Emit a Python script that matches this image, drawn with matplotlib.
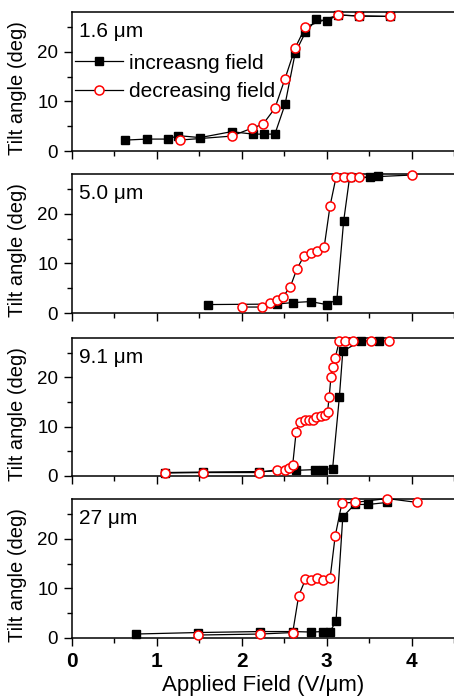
import matplotlib
matplotlib.use("Agg")
import matplotlib.pyplot as plt
from matplotlib.ticker import MultipleLocator

plt.rcParams['font.family'] = ['Liberation Sans', 'DejaVu Sans']

# thickness labels
labels = ["1.6 \u03bcm", "5.0 \u03bcm", "9.1 \u03bcm", "27 \u03bcm"]

# 1.6 um
inc1_x = [0.63, 0.88, 1.13, 1.25, 1.51, 1.88, 2.13, 2.26, 2.39, 2.51, 2.63, 2.75, 2.88, 3.00, 3.13, 3.38, 3.75]
inc1_y = [2.2, 2.4, 2.4, 3.1, 2.7, 3.9, 3.4, 3.4, 3.4, 9.4, 19.8, 23.9, 26.5, 26.2, 27.4, 27.2, 27.1]
dec1_x = [1.27, 1.88, 2.12, 2.25, 2.39, 2.51, 2.63, 2.75, 3.13, 3.38, 3.75]
dec1_y = [2.2, 3.0, 4.6, 5.4, 8.6, 14.6, 20.8, 25.0, 27.4, 27.2, 27.1]

# 5.0 um
inc2_x = [1.60, 2.41, 2.60, 2.81, 3.00, 3.12, 3.20, 3.27, 3.51, 3.60]
inc2_y = [1.7, 1.8, 2.1, 2.3, 1.7, 2.7, 18.5, 27.3, 27.3, 27.6]
dec2_x = [2.00, 2.24, 2.33, 2.41, 2.48, 2.57, 2.65, 2.73, 2.81, 2.89, 2.97, 3.04, 3.11, 3.20, 3.29, 3.38, 4.01]
dec2_y = [1.2, 1.2, 2.0, 2.6, 3.2, 5.2, 8.9, 11.4, 12.1, 12.4, 13.2, 21.6, 27.3, 27.3, 27.3, 27.3, 27.8]

# 9.1 um
inc3_x = [1.09, 1.54, 2.20, 2.64, 2.86, 2.96, 3.07, 3.15, 3.19, 3.40, 3.62]
inc3_y = [0.7, 0.8, 0.9, 1.15, 1.3, 1.3, 1.5, 16.1, 25.3, 27.4, 27.4]
dec3_x = [1.09, 1.54, 2.20, 2.42, 2.51, 2.56, 2.60, 2.64, 2.68, 2.74, 2.79, 2.84, 2.88, 2.93, 2.98,
          3.01, 3.03, 3.05, 3.07, 3.10, 3.15, 3.22, 3.31, 3.52, 3.74]
dec3_y = [0.6, 0.7, 0.7, 1.3, 1.2, 1.7, 2.3, 8.9, 11.0, 11.4, 11.4, 11.4, 12.0, 12.2, 12.4,
          13.0, 16.1, 20.0, 22.1, 24.0, 27.4, 27.4, 27.4, 27.4, 27.4]

# 27 um
inc4_x = [0.75, 1.48, 2.22, 2.60, 2.82, 2.96, 3.04, 3.11, 3.19, 3.33, 3.49, 3.71]
inc4_y = [0.8, 1.1, 1.3, 1.3, 1.2, 1.3, 1.3, 3.4, 24.4, 26.9, 26.9, 27.3]
dec4_x = [1.49, 2.22, 2.60, 2.67, 2.75, 2.82, 2.89, 2.96, 3.04, 3.10, 3.18, 3.33, 3.71, 4.07]
dec4_y = [0.6, 0.8, 1.1, 8.5, 11.8, 11.6, 12.1, 11.6, 12.0, 20.5, 27.2, 27.3, 28.1, 27.3]

inc = [(inc1_x, inc1_y), (inc2_x, inc2_y), (inc3_x, inc3_y), (inc4_x, inc4_y)]
dec = [(dec1_x, dec1_y), (dec2_x, dec2_y), (dec3_x, dec3_y), (dec4_x, dec4_y)]

W, H = 454, 696
fig = plt.figure(figsize=(W / 100, H / 100), dpi=100)

# panel top/bottom in pixels
panels = [(12, 151), (174, 313), (338, 476), (499, 638)]
left, right = 72, 454

axes = []
for i, (top, bot) in enumerate(panels):
    ax = fig.add_axes([left / W, 1 - bot / H, (right - left) / W, (bot - top) / H])
    axes.append(ax)
    ix, iy = inc[i]
    dx, dy = dec[i]
    ax.plot(ix, iy, '-', color='black', lw=0.9, marker='s', ms=6, mfc='black', mec='black',
            label='increasng field', clip_on=False, zorder=3)
    ax.plot(dx, dy, '-', color='black', lw=0.9, marker='o', ms=6.5, mfc='white', mec='red', mew=1.1,
            label='decreasing field', clip_on=False, zorder=4)
    ax.set_xlim(0, 4.5)
    ax.set_ylim(0, 28)
    ax.xaxis.set_major_locator(MultipleLocator(1))
    ax.xaxis.set_minor_locator(MultipleLocator(0.5))
    ax.yaxis.set_major_locator(MultipleLocator(10))
    ax.yaxis.set_minor_locator(MultipleLocator(5))
    ax.tick_params(which='major', direction='out', length=6, width=1, labelsize=13.5, pad=4)
    ax.tick_params(which='minor', direction='out', length=3.6, width=1)
    ax.spines['right'].set_visible(False)
    for s in ['left', 'bottom', 'top']:
        ax.spines[s].set_linewidth(1.1)
    ax.set_ylabel('Tilt angle (deg)', fontsize=14.5)
    ax.yaxis.set_label_coords(-0.117, 0.45)
    ax.text(0.018, 0.86, labels[i], transform=ax.transAxes, fontsize=15, va='center', ha='left')
    if i < 3:
        ax.tick_params(axis='x', which='both', labelbottom=False)
    else:
        for t in ax.get_xticklabels():
            t.set_fontweight('bold')
            t.set_fontsize(15)
        ax.set_xlabel('Applied Field (V/\u03bcm)', fontsize=16, labelpad=3)

axes[0].legend(loc='upper left', bbox_to_anchor=(0.008, 0.70), frameon=False, fontsize=15,
               handlelength=2.3, handletextpad=0.3, labelspacing=0.44, borderpad=0, borderaxespad=0)

fig.savefig('out.png', dpi=100)
